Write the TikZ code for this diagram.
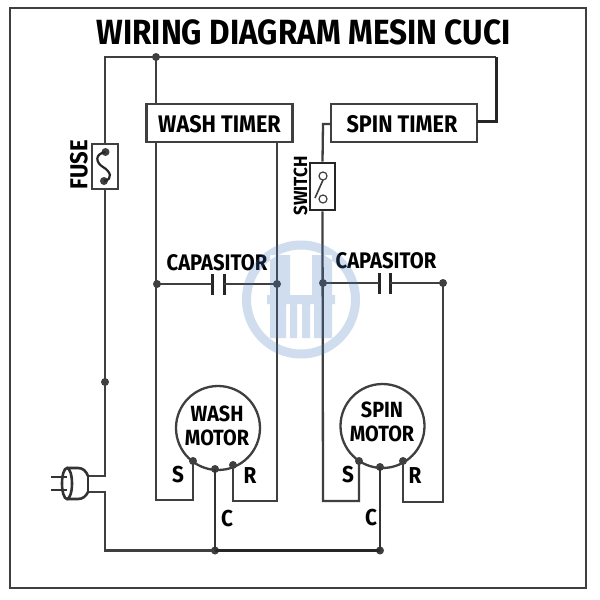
\documentclass[tikz,border=0pt]{standalone}
\usepackage{fontspec}
\setmainfont[FakeStretch=0.9]{Fira Sans}
\usepackage{xcolor}
\definecolor{wirecol}{HTML}{3F3F3F}
\definecolor{markcol}{HTML}{4078BC}
\tikzstyle{wire} = [draw=wirecol, line width=2.3pt, line join=miter]
\tikzstyle{wirebold} = [draw=black!85, line width=3pt, line join=miter]
\tikzstyle{wiremid} = [draw=black!80, line width=2.6pt]
\tikzstyle{frame} = [draw=wirecol, line width=2pt]
\tikzstyle{timerbox} = [draw=wirecol, line width=2.4pt, fill=white, rectangle, minimum width=146pt, minimum height=38pt, inner sep=0pt]
\tikzstyle{fusebox} = [draw=wirecol, line width=1.6pt, fill=white, rectangle, minimum width=26pt, minimum height=45pt, inner sep=0pt]
\tikzstyle{switchbox} = [draw=black!85, line width=2.8pt, fill=white, rectangle, minimum width=25pt, minimum height=47pt, inner sep=0pt]
\tikzstyle{motor} = [draw=wirecol, line width=2.3pt, fill=white, circle, minimum size=84pt, inner sep=0pt]
\tikzstyle{dot} = [fill=wirecol, circle, minimum size=8pt, inner sep=0pt]
\tikzstyle{term} = [draw=wirecol, line width=1.2pt, fill=white, circle, minimum size=8pt, inner sep=0pt]
\tikzstyle{plate} = [draw=black!85, line width=3pt]
\tikzstyle{label} = [text=black, inner sep=0pt, font=\fontsize{24}{28}\selectfont\bfseries]
\tikzstyle{caplabel} = [label, font=\fontsize{22.5}{26}\selectfont\bfseries]
\tikzstyle{motorlabel} = [label, align=center, font=\fontsize{22}{24}\selectfont\bfseries]
\tikzstyle{pinlabel} = [label, font=\fontsize{23}{26}\selectfont\bfseries]
\begin{document}
\begin{tikzpicture}[x=1pt, y=-1pt]
\useasboundingbox (0,0) rectangle (600,600);
\fill[white] (0,0) rectangle (600,600);
\draw[frame] (10,8) rectangle (586,588);
\node[inner sep=0pt, font=\fontsize{35}{40}\selectfont\bfseries] (title) at (303.5,32) {WIRING DIAGRAM MESIN CUCI};

% timers, fuse, switch
\node[timerbox] (washtimer) at (219.5,123) {};
\node[label] (washtext) at (219.5,124) {WASH TIMER};
\node[timerbox] (spintimer) at (404,123) {};
\node[label] (spintext) at (402,124) {SPIN TIMER};
\node[fusebox] (fuse) at (105,166.5) {};
\node[label, rotate=90, font=\fontsize{24.5}{28}\selectfont\bfseries] (fusetext) at (79,165) {FUSE};
\node[switchbox] (switch) at (322.5,186.5) {};
\node[label, rotate=90, font=\fontsize{19}{22}\selectfont\bfseries] (switchtext) at (300.5,186) {SWITCH};

% motors
\node[motor] (washmotor) at (218,428) {};
\node[motor] (spinmotor) at (382.5,426) {};
\node[motorlabel] (washname) at (217,426) {WASH\\MOTOR};
\node[motorlabel] (spinname) at (382,422) {SPIN\\MOTOR};

% junctions
\node[dot] (feed) at (156,57) {};
\node[dot] (linedot) at (105,382) {};
\node[dot] (washcapl) at (157,284) {};
\node[dot] (washcapr) at (277,284) {};
\node[dot] (spincapl) at (323,283) {};
\node[dot] (spincapr) at (443,283) {};
\node[dot] (washs) at (193,461) {};
\node[dot] (washc) at (215,469) {};
\node[dot] (washr) at (233,465) {};
\node[dot] (spins) at (359,461) {};
\node[dot] (spinc) at (380,467) {};
\node[dot] (spinr) at (403,461) {};
\node[dot] (buswash) at (215,550.5) {};
\node[dot] (busspin) at (380,550.5) {};

% capacitor plates
\coordinate (washa) at (212,284);
\coordinate (washb) at (224,284);
\coordinate (spina) at (379,283);
\coordinate (spinb) at (390,283);
\draw[plate] (212,274) -- (212,295);
\draw[plate] (224,274) -- (224,295);
\draw[plate] (379,273) -- (379,294);
\draw[plate] (390,273) -- (390,294);
\draw[wire] (washcapl.center) -- (washa);
\draw[wire] (washb) -- (washcapr.center);
\draw[wire] (spincapl.center) -- (spina);
\draw[wire] (spinb) -- (spincapr.center);
\node[caplabel] (capwash) at (217,263) {CAPASITOR};
\node[caplabel] (capspin) at (386,261) {CAPASITOR};

% wiring
\coordinate (topl) at (105,57);
\coordinate (topr) at (496,57);
\coordinate (spinout) at (477,121);
\coordinate (plugl) at (88,476);
\coordinate (plugn) at (88,492);
\draw[wire] (fuse.north) -- (topl) -- (topr);
\draw[wirebold] (topr) -- (496,121) -- (spinout);
\draw[wire] (feed.center) -- (feed |- washtimer.north);
\draw[wire] (fuse.south) -- (105,476) -- (plugl);
\draw[wire] (plugn) -- (105,492) -- (105,550.5) -- (buswash.center);
\draw[wirebold] (buswash.center) -- (busspin.center);
\draw[wire] (spintimer.west |- 0,124) -- (323,124) -- (switch.north);
\draw[wire] (switch.south) -- (323,501) -- (spins |- 0,501) -- (spins.center);
\draw[wire] (washtimer.south -| feed) -- (156,500) -- (washs |- 0,500) -- (washs.center);
\draw[wire] (washtimer.south -| washcapr) -- (277,501) -- (washr |- 0,501) -- (washr.center);
\draw[wire] (spincapr.center) -- (443,502) -- (spinr |- 0,502) -- (spinr.center);
\draw[wiremid] (washc.center) -- (buswash.center);
\draw[wiremid] (spinc.center) -- (busspin.center);

% switch and fuse inside
\node[term] (swtop) at (323,176) {};
\node[term] (swbot) at (323,199) {};
\draw[wirecol, line width=1.6pt] (315,198) -- (323,180);
\node[dot] (fusea) at (105.5,152) {};
\node[dot] (fuseb) at (104,181) {};
\draw[black!85, line width=2.2pt] (fusea.center) .. controls (94,154) and (96,163) .. (103,167) .. controls (110,171) and (114,179) .. (fuseb.center);

% plug
\draw[wiremid] (plugl) .. controls (86,471) and (83,468) .. (78,468) -- (67,468);
\draw[wiremid] (plugn) .. controls (86,496) and (83,499) .. (78,499) -- (67,499);
\draw[wiremid] (plugl) -- (plugn);
\draw[wiremid] (67,483.5) ellipse (5 and 15.5);
\draw[wiremid] (51,477) -- (67,477);
\draw[wiremid] (51,490) -- (67,490);

% pin labels
\node[pinlabel] (washslabel) at (178,475) {S};
\node[pinlabel] (washrlabel) at (250,476) {R};
\node[pinlabel] (washclabel) at (227,519) {C};
\node[pinlabel] (spinslabel) at (348,475) {S};
\node[pinlabel] (spinrlabel) at (415,476) {R};
\node[pinlabel] (spinclabel) at (371,518) {C};

% watermark
\fill[markcol, fill opacity=.25, even odd rule] (301,299.5) circle (59) (301,299.5) circle (50)
  (270,255) rectangle (290,295) (312,255) rectangle (332,295)
  (267,295) rectangle (335,304)
  (270,304) rectangle (286,338) (290,304) rectangle (297,338) (302,304) rectangle (310,338) (314,304) rectangle (332,338);
\end{tikzpicture}
\end{document}
